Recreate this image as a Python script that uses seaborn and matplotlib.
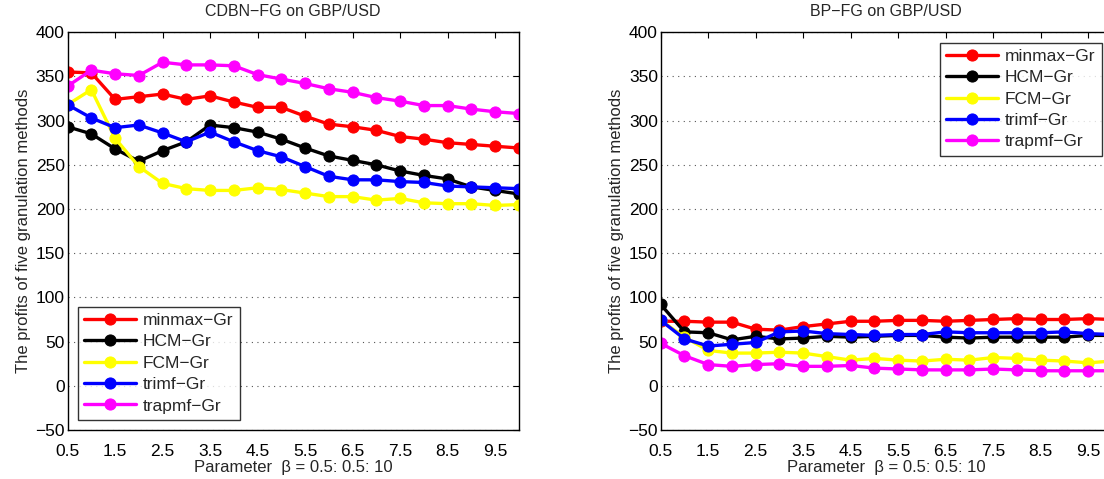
import matplotlib
matplotlib.use("Agg")
import matplotlib.pyplot as plt
import pandas as pd
import seaborn as sns

# Data
beta = [0.5, 1.0, 1.5, 2.0, 2.5, 3.0, 3.5, 4.0, 4.5, 5.0,
        5.5, 6.0, 6.5, 7.0, 7.5, 8.0, 8.5, 9.0, 9.5, 10.0]
methods = ["minmax−Gr", "HCM−Gr", "FCM−Gr", "trimf−Gr", "trapmf−Gr"]
colors = ["#ff0000", "#000000", "#ffff00", "#0000ff", "#ff00ff"]

cdbn_minmax = [355, 354, 324, 327, 330, 324, 328, 321, 315, 315,
               305, 296, 293, 289, 282, 279, 275, 273, 271, 269]
cdbn_hcm = [293, 285, 268, 254, 266, 276, 295, 292, 287, 279,
            269, 260, 255, 250, 243, 238, 234, 225, 221, 217]
cdbn_fcm = [318, 335, 280, 248, 229, 223, 221, 221, 224, 222,
            218, 214, 214, 210, 212, 207, 206, 206, 204, 205]
cdbn_trimf = [318, 303, 292, 295, 286, 276, 287, 276, 266, 259,
              248, 237, 233, 233, 231, 230, 226, 225, 224, 223]
cdbn_trapmf = [339, 357, 353, 351, 366, 363, 363, 362, 352, 347,
               342, 336, 332, 326, 322, 317, 317, 313, 310, 308]

bp_minmax = [73, 73, 72, 72, 64, 63, 67, 70, 73, 73,
             74, 74, 73, 74, 75, 76, 75, 75, 76, 75]
bp_hcm = [92, 61, 60, 52, 56, 53, 54, 56, 55, 56,
          57, 57, 55, 54, 55, 55, 55, 55, 57, 57]
bp_fcm = [74, 55, 40, 37, 37, 38, 37, 33, 29, 31,
          29, 28, 30, 29, 32, 31, 29, 28, 26, 28]
bp_trimf = [74, 53, 45, 47, 49, 61, 62, 59, 58, 57,
            58, 58, 61, 60, 60, 60, 60, 61, 59, 58]
bp_trapmf = [48, 34, 24, 22, 24, 25, 22, 22, 23, 20,
             19, 18, 18, 18, 19, 18, 17, 17, 17, 17]

panels = [
    ("CDBN−FG on GBP/USD", [cdbn_minmax, cdbn_hcm, cdbn_fcm, cdbn_trimf, cdbn_trapmf], "lower left"),
    ("BP−FG on GBP/USD", [bp_minmax, bp_hcm, bp_fcm, bp_trimf, bp_trapmf], "upper right"),
]

sns.set_style("white")
plt.rcParams["font.family"] = ["Liberation Sans", "DejaVu Sans"]
plt.rcParams["font.size"] = 12.5

fig = plt.figure(figsize=(11.04, 4.79), dpi=100)
# axes placed like the MATLAB figure; the right panel runs past the image edge
positions = [[0.0612, 0.1023, 0.4087, 0.8305], [0.5985, 0.1023, 0.4087, 0.8305]]

for pos, (title, series, loc) in zip(positions, panels):
    ax = fig.add_axes(pos)
    frames = []
    for name, vals in zip(methods, series):
        frames.append(pd.DataFrame({"beta": beta, "profit": vals, "method": name}))
    df = pd.concat(frames, ignore_index=True)
    for name, c in zip(methods, colors):
        sns.lineplot(data=df[df.method == name], x="beta", y="profit", ax=ax,
                     color=c, marker="o", markersize=8, markeredgecolor=c,
                     linewidth=2.4, label=name)

    ax.set_xlim(0.5, 10)
    ax.set_ylim(-50, 400)
    ax.set_xticks([0.5, 1.5, 2.5, 3.5, 4.5, 5.5, 6.5, 7.5, 8.5, 9.5])
    ax.set_xticklabels(["0.5", "1.5", "2.5", "3.5", "4.5", "5.5", "6.5", "7.5", "8.5", "9.5"])
    ax.set_yticks(range(-50, 401, 50))
    ax.tick_params(direction="in", length=4, width=0.8, top=True, right=True,
                   labelsize=12.5, colors="black")
    ax.tick_params(axis="x", pad=10)
    ax.tick_params(axis="y", pad=2)
    ax.yaxis.grid(True, linestyle=(0, (1, 4)), color="#555555", linewidth=0.8)
    ax.xaxis.grid(False)
    for s in ax.spines.values():
        s.set_color("black")
        s.set_linewidth(1.0)
    ax.set_title(title, fontsize=11.5, pad=12)
    ax.set_xlabel("Parameter  β = 0.5: 0.5: 10", fontsize=12, labelpad=1)
    ax.set_ylabel("The profits of five granulation methods", fontsize=12, labelpad=3)
    leg = ax.legend(loc=loc, fontsize=12.5, frameon=True, fancybox=False,
                    edgecolor="black", handlelength=3.0, handletextpad=0.4,
                    borderpad=0.35, labelspacing=0.36, borderaxespad=0.6)
    leg.get_frame().set_linewidth(1.0)

fig.savefig("out.png", dpi=100)
